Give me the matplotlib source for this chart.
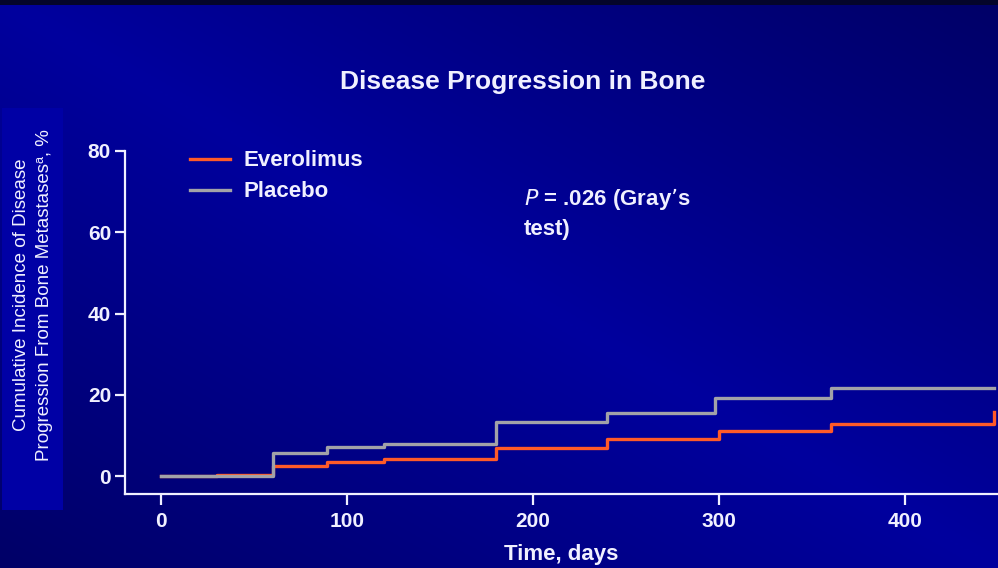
import numpy as np
import matplotlib
matplotlib.use("Agg")
import matplotlib.pyplot as plt
from matplotlib.patches import Rectangle

plt.rcParams['font.family'] = ['Liberation Sans', 'DejaVu Sans']

# step data (days, cumulative incidence %)
evr_days = [0, 30, 60, 89, 120, 180, 240, 300, 360, 448]
evr_pct = [0, 0.3, 2.5, 3.4, 4.3, 6.8, 9.1, 11.2, 12.8, 15.7]
pbo_days = [0, 60, 89, 120, 180, 240, 298, 360, 448]
pbo_pct = [0, 5.7, 7.1, 7.8, 13.2, 15.6, 19.1, 21.6, 21.6]
x_ticks = [0, 100, 200, 300, 400]
y_ticks = [0, 20, 40, 60, 80]

ORANGE = '#ff5a28'
GRAY = '#a2a2a8'
WHITE = '#f0f0ff'

fig = plt.figure(figsize=(9.98, 5.68), dpi=100)

# blue gradient background
bg = fig.add_axes([0, 0, 1, 1], zorder=-10)
yy, xx = np.mgrid[0:1:200j, 0:1:350j]
d = np.abs((xx - yy) * 0.9)
shade = 1 - d
img = np.zeros((200, 350, 3))
img[..., 2] = 0.38 + 0.24 * shade
bg.imshow(img, extent=[0, 1, 0, 1], aspect='auto', origin='upper')
bg.set_xlim(0, 1)
bg.set_ylim(0, 1)
bg.axis('off')
bg.add_patch(Rectangle((0, 1 - 5 / 568), 1, 5 / 568, color='#04052a', lw=0))
bg.add_patch(Rectangle((2 / 998, 1 - 510 / 568), 61 / 998, 402 / 568, color='#0000a5', lw=0))

ax = fig.add_axes([125 / 998, 1 - 494 / 568, 1 - 125 / 998, (494 - 151) / 568])
ax.patch.set_alpha(0)

ax.step(evr_days, evr_pct, where='post', color=ORANGE, lw=2.4, label='Everolimus', zorder=3)
ax.step(pbo_days, pbo_pct, where='post', color=GRAY, lw=2.4, label='Placebo', zorder=4)

ax.set_xlim(-19.4, 450)
ax.set_ylim(-4.4, 80)
ax.set_xticks(x_ticks)
ax.set_yticks(y_ticks)

for side in ['top', 'right']:
    ax.spines[side].set_visible(False)
for side in ['left', 'bottom']:
    ax.spines[side].set_color(WHITE)
    ax.spines[side].set_linewidth(1.6)

ax.tick_params(axis='x', direction='out', length=8, width=1.6, color=WHITE,
               labelcolor=WHITE, labelsize=15, pad=5)
ax.tick_params(axis='y', direction='out', length=7, width=1.6, color=WHITE,
               labelcolor=WHITE, labelsize=15, pad=3)
for lab in ax.get_xticklabels() + ax.get_yticklabels():
    lab.set_fontweight('bold')
ax.yaxis.get_major_ticks()[0].tick1line.set_color('#15153a')

ax.set_xlabel('Time, days', color=WHITE, fontsize=16, fontweight='bold', labelpad=9)

leg = ax.legend(loc='upper left', bbox_to_anchor=(0.052, 1.06), frameon=False,
                handlelength=1.8, handletextpad=0.6, labelspacing=0.45,
                prop={'size': 16, 'weight': 'bold'})
for t in leg.get_texts():
    t.set_color(WHITE)

ax.text(195, 71.5, '$\\it{P}$ = .026 (Gray\u2019s\ntest)', color=WHITE, fontsize=16,
        fontweight='bold', va='top', ha='left', linespacing=1.45)

fig.text(523 / 998, 1 - 82 / 568, 'Disease Progression in Bone', color=WHITE,
         fontsize=19, fontweight='bold', ha='center', va='center')

fig.text(22 / 998, 1 - 295 / 568, 'Cumulative Incidence of Disease', color=WHITE,
         fontsize=13.5, rotation=90, ha='center', va='center')
fig.text(45 / 998, 1 - 295 / 568, 'Progression From Bone Metastases\u1d43, %', color=WHITE,
         fontsize=13.5, rotation=90, ha='center', va='center')

fig.savefig('out.png', dpi=100)
